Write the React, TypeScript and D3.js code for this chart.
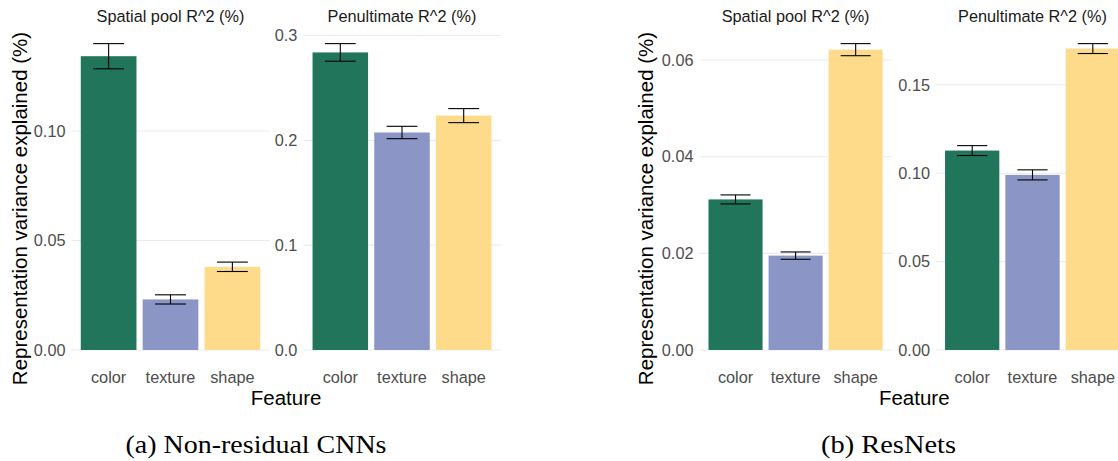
import React from "react";
import * as d3 from "d3";

const features = ["color", "texture", "shape"];
const featureColors = ["#21755A", "#8B96C6", "#FEDB8A"];

const cnnSpatialValues = [0.1342, 0.0231, 0.0380];
const cnnSpatialErrors = [0.00575, 0.0021, 0.00215];
const cnnSpatialTicks = [0, 0.05, 0.1];

const cnnPenultValues = [0.2839, 0.2075, 0.2236];
const cnnPenultErrors = [0.0084, 0.0059, 0.0067];
const cnnPenultTicks = [0, 0.1, 0.2, 0.3];

const resSpatialValues = [0.03116, 0.01953, 0.06215];
const resSpatialErrors = [0.00093, 0.00076, 0.00125];
const resSpatialTicks = [0, 0.02, 0.04, 0.06];

const resPenultValues = [0.1128, 0.09905, 0.1705];
const resPenultErrors = [0.0028, 0.00285, 0.0028];
const resPenultTicks = [0, 0.05, 0.1, 0.15];

const stripTitles = ["Spatial pool R^2 (%)", "Penultimate R^2 (%)"];
const yTitle = "Representation variance explained (%)";
const xTitle = "Feature";
const captions = ["(a) Non-residual CNNs", "(b) ResNets"];

const W = 1118;
const H = 461;
const PANEL_TOP = 28.3;
const PANEL_BOTTOM = 365.3;
const SANS = "'Liberation Sans', Arial, Helvetica, sans-serif";
const TEXT_GREY = "#4D4D4D";

type PanelProps = {
  x0: number;
  x1: number;
  values: number[];
  errors: number[];
  ticks: number[];
  decimals: number;
  title: string;
};

function Panel({ x0, x1, values, errors, ticks, decimals, title }: PanelProps) {
  const m = d3.max(values.map((v, i) => v + errors[i])) as number;
  const y = d3
    .scaleLinear()
    .domain([-0.05 * m, 1.05 * m])
    .range([PANEL_BOTTOM, PANEL_TOP]);
  const x = d3
    .scaleBand<string>()
    .domain(features)
    .range([x0, x1])
    .paddingInner(0.1)
    .paddingOuter(0.15);
  const step = x.step();
  const fmt = d3.format(`.${decimals}f`);
  return (
    <g>
      {ticks.map((t) => (
        <g key={t}>
          <line x1={x0} x2={x1} y1={y(t)} y2={y(t)} stroke="#EBEBEB" strokeWidth={1.1} />
          <text
            x={x0 - 6}
            y={y(t)}
            dy="0.35em"
            textAnchor="end"
            fontFamily={SANS}
            fontSize={16.3}
            fill={TEXT_GREY}
          >
            {fmt(t)}
          </text>
        </g>
      ))}
      {features.map((f, i) => {
        const bx = x(f) as number;
        const cx = bx + x.bandwidth() / 2;
        const hi = y(values[i] + errors[i]);
        const lo = y(values[i] - errors[i]);
        return (
          <g key={f}>
            <rect
              x={bx}
              y={y(values[i])}
              width={x.bandwidth()}
              height={y(0) - y(values[i])}
              fill={featureColors[i]}
            />
            <g stroke="#000" strokeWidth={1.1}>
              <line x1={cx - step / 4} x2={cx + step / 4} y1={hi} y2={hi} />
              <line x1={cx - step / 4} x2={cx + step / 4} y1={lo} y2={lo} />
              <line x1={cx} x2={cx} y1={hi} y2={lo} />
            </g>
            <text
              x={cx}
              y={383.3}
              textAnchor="middle"
              fontFamily={SANS}
              fontSize={16.3}
              fill={TEXT_GREY}
            >
              {f}
            </text>
          </g>
        );
      })}
      <text
        x={(x0 + x1) / 2}
        y={21.7}
        textAnchor="middle"
        fontFamily={SANS}
        fontSize={16.3}
        fill="#1A1A1A"
      >
        {title}
      </text>
    </g>
  );
}

type FigureProps = {
  panels: PanelProps[];
  yTitleX: number;
  caption: string;
  captionX: number;
  captionLen: number;
};

function Figure({ panels, yTitleX, caption, captionX, captionLen }: FigureProps) {
  const left = panels[0].x0;
  const right = panels[panels.length - 1].x1;
  return (
    <g>
      {panels.map((p, i) => (
        <Panel key={i} {...p} />
      ))}
      <text
        transform={`translate(${yTitleX},208.5) rotate(-90)`}
        textAnchor="middle"
        fontFamily={SANS}
        fontSize={20.5}
        fill="#000"
      >
        {yTitle}
      </text>
      <text
        x={(left + right) / 2}
        y={404.5}
        textAnchor="middle"
        fontFamily={SANS}
        fontSize={20.5}
        fill="#000"
      >
        {xTitle}
      </text>
      <text
        x={captionX}
        y={453.3}
        textAnchor="middle"
        fontFamily="'Liberation Serif', 'Times New Roman', serif"
        fontSize={25}
        fill="#000"
        textLength={captionLen}
        lengthAdjust="spacingAndGlyphs"
      >
        {caption}
      </text>
    </g>
  );
}

export default function App() {
  return (
    <svg
      width={W}
      height={H}
      viewBox={`0 0 ${W} ${H}`}
      style={{ position: "absolute", left: 0, top: 0, background: "#fff" }}
    >
      <rect x={0} y={0} width={W} height={H} fill="#fff" />
      <Figure
        panels={[
          { x0: 71.5, x1: 269.5, values: cnnSpatialValues, errors: cnnSpatialErrors, ticks: cnnSpatialTicks, decimals: 2, title: stripTitles[0] },
          { x0: 303.3, x1: 500.7, values: cnnPenultValues, errors: cnnPenultErrors, ticks: cnnPenultTicks, decimals: 1, title: stripTitles[1] },
        ]}
        yTitleX={27}
        caption={captions[0]}
        captionX={256}
        captionLen={261}
      />
      <Figure
        panels={[
          { x0: 699.5, x1: 891.7, values: resSpatialValues, errors: resSpatialErrors, ticks: resSpatialTicks, decimals: 2, title: stripTitles[0] },
          { x0: 936, x1: 1129, values: resPenultValues, errors: resPenultErrors, ticks: resPenultTicks, decimals: 2, title: stripTitles[1] },
        ]}
        yTitleX={653}
        caption={captions[1]}
        captionX={888.5}
        captionLen={135}
      />
    </svg>
  );
}
